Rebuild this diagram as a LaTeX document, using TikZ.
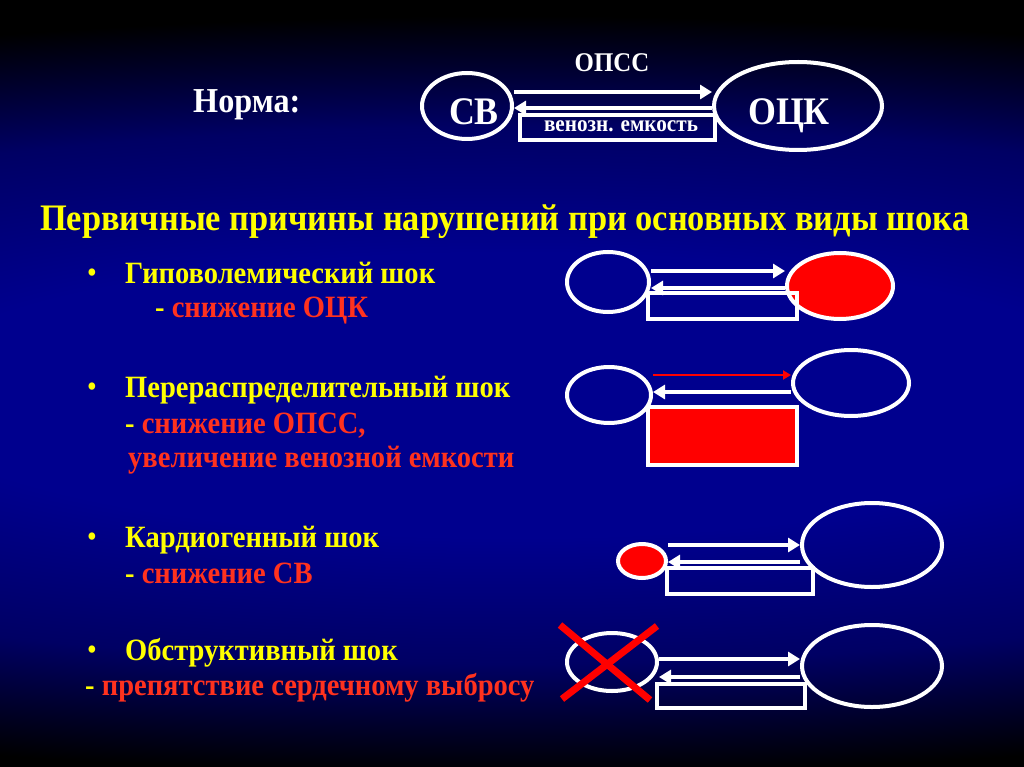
\documentclass[tikz,border=0pt]{standalone}
\usepackage{fontspec}
\setmainfont{Liberation Serif}[FakeStretch=0.92]
\usetikzlibrary{shapes.geometric,arrows.meta}

\definecolor{slideblue}{RGB}{0,0,142}
\definecolor{midblue}{RGB}{0,0,100}
\definecolor{txtyellow}{RGB}{255,255,0}
\definecolor{txtred}{RGB}{255,50,30}
\definecolor{fillred}{RGB}{255,0,0}

\pgfdeclareradialshading{slidebg}{\pgfpoint{0bp}{0bp}}{color(0bp)=(slideblue); color(9bp)=(slideblue); color(17bp)=(midblue); color(24bp)=(black); color(50bp)=(black)}

\tikzset{
  ring/.style={ellipse, draw=white, line width=4pt, inner sep=0pt},
  vbox/.style={rectangle, draw=white, line width=4pt, inner sep=0pt},
  flow/.style={draw=white, line width=4pt, -{Triangle[length=12pt,width=14pt]}},
  wtext/.style={anchor=base, inner sep=0pt, text=white},
  item/.style={anchor=base west, inner sep=0pt, text=txtyellow,
    font=\bfseries\fontsize{31}{32}\selectfont},
  note/.style={item, text=txtred},
  dot/.style={anchor=base, inner sep=0pt, text=txtyellow, font=\bfseries\fontsize{27}{28}\selectfont},
}

\begin{document}
\begin{tikzpicture}[x=1pt, y=-1pt]

    \useasboundingbox (0,0) rectangle (1024,767);
    \fill[black] (0,0) rectangle (1024,767);
    \shade[shading=slidebg] (-1200,0) rectangle (2224,790);

    % norma
    \node[anchor=base west, inner sep=0pt, text=white, font=\bfseries\fontsize{35}{36}\selectfont] (norma) at (193,113) {Норма:};
    \node[ring, minimum width=90, minimum height=66] (cv0) at (467,106) {};
    \node[ring, minimum width=168, minimum height=88] (ock0) at (798,106) {};
    \node[wtext, font=\bfseries\fontsize{39}{40}\selectfont] (cvt) at (474,125) {СВ};
    \node[wtext, font=\bfseries\fontsize{39}{40}\selectfont] (ockt) at (789,125) {ОЦК};
    \node[vbox, minimum width=195, minimum height=25] (vb0) at (617.5,127.5) {};
    \node[wtext, font=\bfseries\fontsize{23}{24}\selectfont] (vbt) at (621,132) {венозн. емкость};
    \node[wtext, font=\bfseries\fontsize{27}{28}\selectfont] (opss0) at (612,72) {ОПСС};
    \draw[flow] (cv0.east |- 0,92) -- (ock0.west |- 0,92);
    \draw[flow] (ock0.west |- 0,108) -- (cv0.east |- 0,108);

    % title
    \node[anchor=base west, inner sep=0pt, text=txtyellow, font=\bfseries\fontsize{37.4}{38}\selectfont] (title) at (40,231)
      {Первичные причины нарушений при основных виды шока};

    % list
    \node[dot] (d1) at (92,281) {•};
    \node[item] (t1) at (125,283) {Гиповолемический шок};
    \node[item] (n1) at (155,317) {- \textcolor{txtred}{снижение ОЦК}};
    \node[dot] (d2) at (92,395) {•};
    \node[item] (t2) at (125,397) {Перераспределительный шок};
    \node[item] (n2) at (125,433) {- \textcolor{txtred}{снижение ОПСС,}};
    \node[note] (n2b) at (128,467) {увеличение венозной емкости};
    \node[dot] (d3) at (92,545) {•};
    \node[item] (t3) at (125,547) {Кардиогенный шок};
    \node[item] (n3) at (125,583) {- \textcolor{txtred}{снижение СВ}};
    \node[dot] (d4) at (92,658) {•};
    \node[item] (t4) at (125,660) {Обструктивный шок};
    \node[item] (n4) at (85,695) {- \textcolor{txtred}{препятствие сердечному выбросу}};

    % hypovolemic
    \node[ring, minimum width=82, minimum height=60] (l1) at (608,282) {};
    \node[ring, fill=fillred, minimum width=106, minimum height=66] (r1) at (840,286) {};
    \node[vbox, minimum width=149, minimum height=26] (b1) at (722.5,306) {};
    \draw[flow] (l1.east |- 0,271) -- (r1.west |- 0,271);
    \draw[flow] (r1.west |- 0,288) -- (l1.east |- 0,288);

    % distributive
    \node[ring, minimum width=84, minimum height=56] (l2) at (609,395) {};
    \node[ring, minimum width=116, minimum height=66] (r2) at (851,383) {};
    \node[vbox, fill=fillred, minimum width=149, minimum height=58] (b2) at (722.5,436) {};
    \draw[draw=fillred, line width=2pt, -{Triangle[length=8pt,width=9pt]}] (l2.east |- 0,375) -- (r2.west |- 0,375);
    \draw[flow] (r2.west |- 0,392) -- (l2.east |- 0,392);

    % cardiogenic
    \node[ring, fill=fillred, minimum width=48, minimum height=34] (l3) at (642,561) {};
    \node[ring, minimum width=140, minimum height=84] (r3) at (872,545) {};
    \node[vbox, minimum width=146, minimum height=26] (b3) at (740,581) {};
    \draw[flow] (l3.east |- 0,545) -- (r3.west |- 0,545);
    \draw[flow] (r3.west |- 0,562) -- (l3.east |- 0,562);

    % obstructive
    \node[ring, minimum width=90, minimum height=58] (l4) at (612,662) {};
    \node[ring, minimum width=140, minimum height=82] (r4) at (872,666) {};
    \node[vbox, minimum width=148, minimum height=24] (b4) at (731,696) {};
    \draw[flow] (l4.east |- 0,659) -- (r4.west |- 0,659);
    \draw[flow] (r4.west |- 0,677) -- (l4.east |- 0,677);
    \draw[fillred, line width=7pt] (560,625) -- (650,700);
    \draw[fillred, line width=7pt] (657,626) -- (562,699);

\end{tikzpicture}
\end{document}
